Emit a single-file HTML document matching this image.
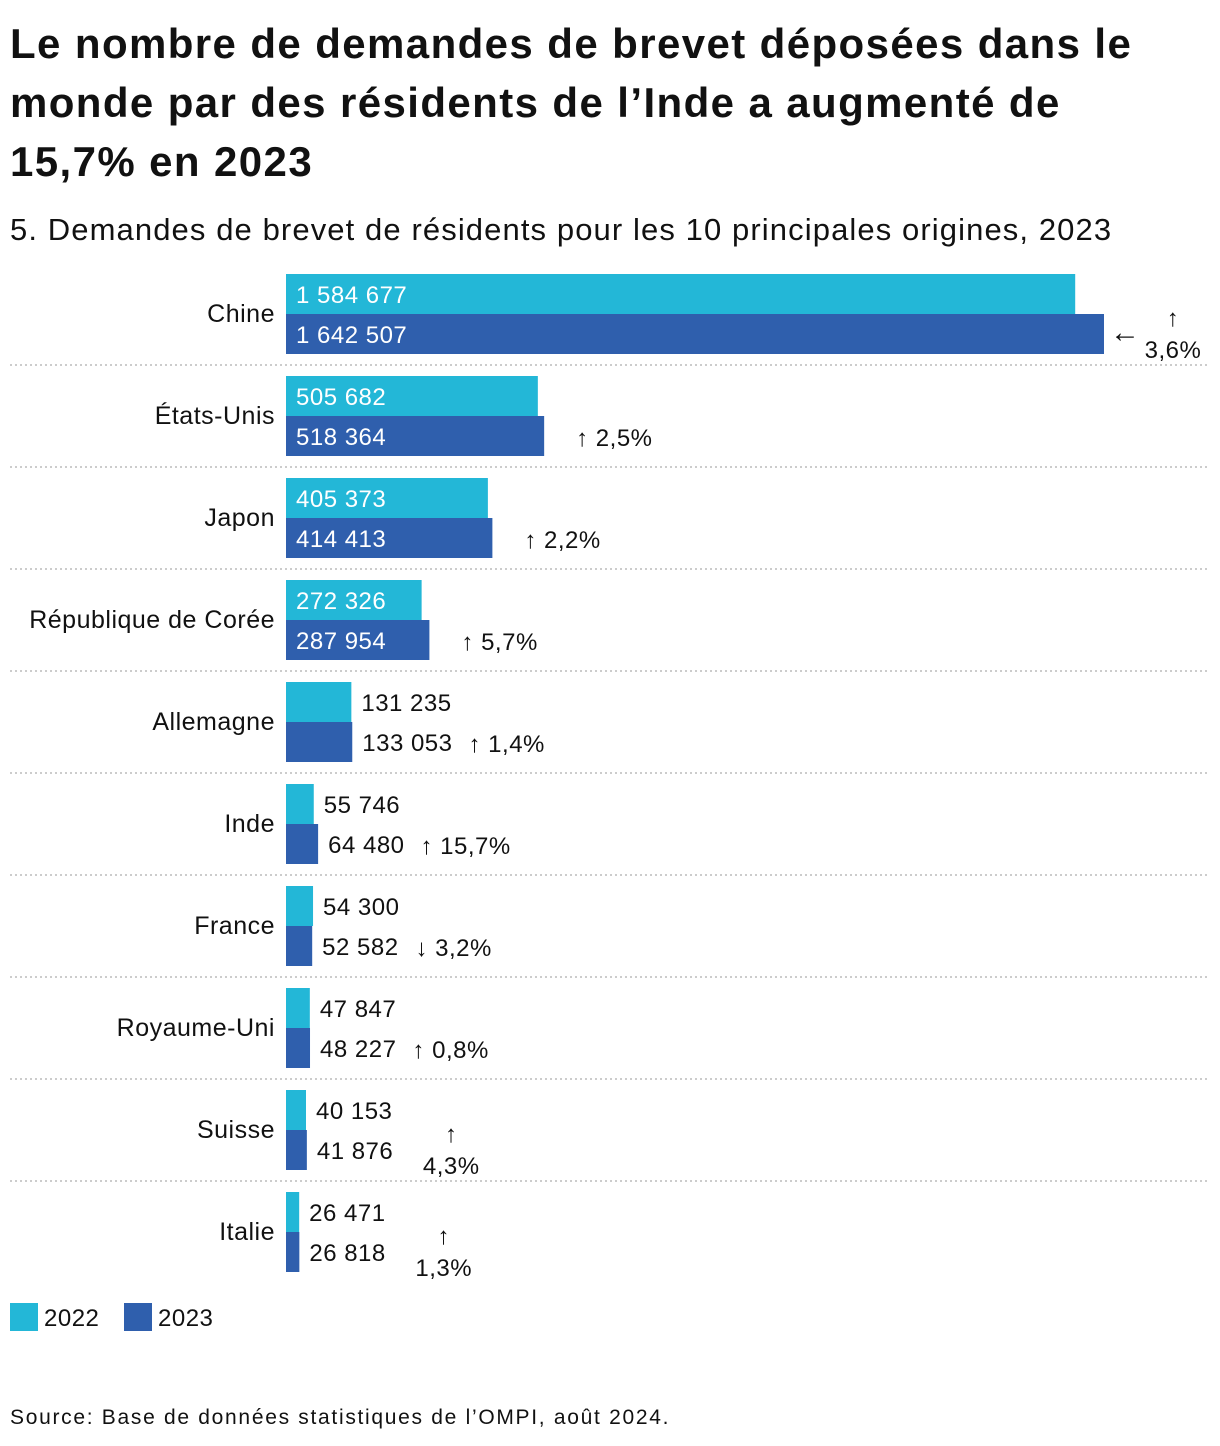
<!DOCTYPE html>
<html><head><meta charset="utf-8">
<style>
body{margin:0;background:#fff;font-family:"Liberation Sans",sans-serif;color:#111;}
#wrap{position:relative;width:1220px;height:1446px;overflow:hidden;}
h1{position:absolute;left:10px;top:14px;margin:0;font-size:42px;line-height:59px;font-weight:bold;width:1210px;white-space:nowrap;letter-spacing:1.4px;}
.sub{position:absolute;left:10px;top:212px;font-size:31px;letter-spacing:1.1px;white-space:nowrap;}
.src{position:absolute;left:10px;top:1406px;font-size:21px;letter-spacing:1.7px;white-space:nowrap;}
</style></head><body>
<div id="wrap">
<h1>Le nombre de demandes de brevet déposées dans le<br>monde par des résidents de l’Inde a augmenté de<br>15,7% en 2023</h1>
<div class="sub">5. Demandes de brevet de résidents pour les 10 principales origines, 2023</div>
<svg id="chart" width="1220" height="1446" style="position:absolute;left:0;top:0"></svg>
<div class="src">Source: Base de données statistiques de l’OMPI, août 2024.</div>
</div>
<script>
const categories=["Chine","États-Unis","Japon","République de Corée","Allemagne","Inde","France","Royaume-Uni","Suisse","Italie"];
const values2022=[1584677,505682,405373,272326,131235,55746,54300,47847,40153,26471];
const values2023=[1642507,518364,414413,287954,133053,64480,52582,48227,41876,26818];
const changes=["↑ 3,6%","↑ 2,5%","↑ 2,2%","↑ 5,7%","↑ 1,4%","↑ 15,7%","↓ 3,2%","↑ 0,8%","↑ 4,3%","↑ 1,3%"];
const NS="http://www.w3.org/2000/svg";
const svg=document.getElementById('chart');
const x0=286, scale=818/1642507, top0=274, pitch=102, bh=40;
const x=v=>v*scale;
const fmt=v=>v.toLocaleString('en-US').replace(/,/g,' ');
function mk(t,a){const e=document.createElementNS(NS,t);for(const k in a)e.setAttribute(k,a[k]);svg.appendChild(e);return e;}
function txt(s,xx,yy,fill,anchor,fs){const t=mk('text',{x:xx,y:yy,fill:fill||'#111','font-size':fs||24,'letter-spacing':0.5,'font-family':'Liberation Sans, sans-serif','text-anchor':anchor||'start'});t.textContent=s;return t;}
categories.forEach((c,i)=>{
  const y=top0+i*pitch;
  const l=txt(c,275,y+48,'#111','end',25);
  
  
  const vals=[values2022[i],values2023[i]],cols=['#23b7d7','#2f5fad'];
  let maxEnd=0;
  vals.forEach((v,j)=>{
    const w=x(v);
    const r=mk('rect',{x:x0,y:y+j*bh,width:w,height:bh,fill:cols[j]});
    
    
    let t;
    if(w>120){t=txt(fmt(v),x0+10,y+j*bh+29,'#fff');maxEnd=Math.max(maxEnd,x0+w);}
    else{t=txt(fmt(v),x0+w+10,y+j*bh+29,'#111');maxEnd=Math.max(maxEnd,x0+w+10+t.getComputedTextLength());}
    
    
  });
  let a;
  if(i===0){
    a=txt('←',1110,y+68,'#111','start',30);
    const b=txt('↑',1173,y+52,'#111','middle');
    const c2=txt(changes[i].replace('↑ ',''),1173,y+84,'#111','middle');
    
    
    
    
  } else if(i>=8){
    const cx=maxEnd+58;
    a=txt('↑',cx,y+52,'#111','middle');
    const c2=txt(changes[i].replace('↑ ',''),cx,y+84,'#111','middle');
    
    
  } else {
    const off=(x(values2023[i])>120)?32:16;
    a=txt(changes[i],maxEnd+off,y+70,'#111');
  }
  
  
  if(i<categories.length-1){
    const ln=mk('line',{x1:10,x2:1208,y1:y+91,y2:y+91,stroke:'#bbb','stroke-width':1.5,'stroke-dasharray':'2 3'});
    
    
  }
});
[['2022','#23b7d7',10],['2023','#2f5fad',124]].forEach(([lab,col,lx])=>{
  const r=mk('rect',{x:lx,y:1303,width:28,height:28,fill:col});
  
  
  const t=txt(lab,lx+34,1326,'#111');
  
  
});
</script>
</body></html>
